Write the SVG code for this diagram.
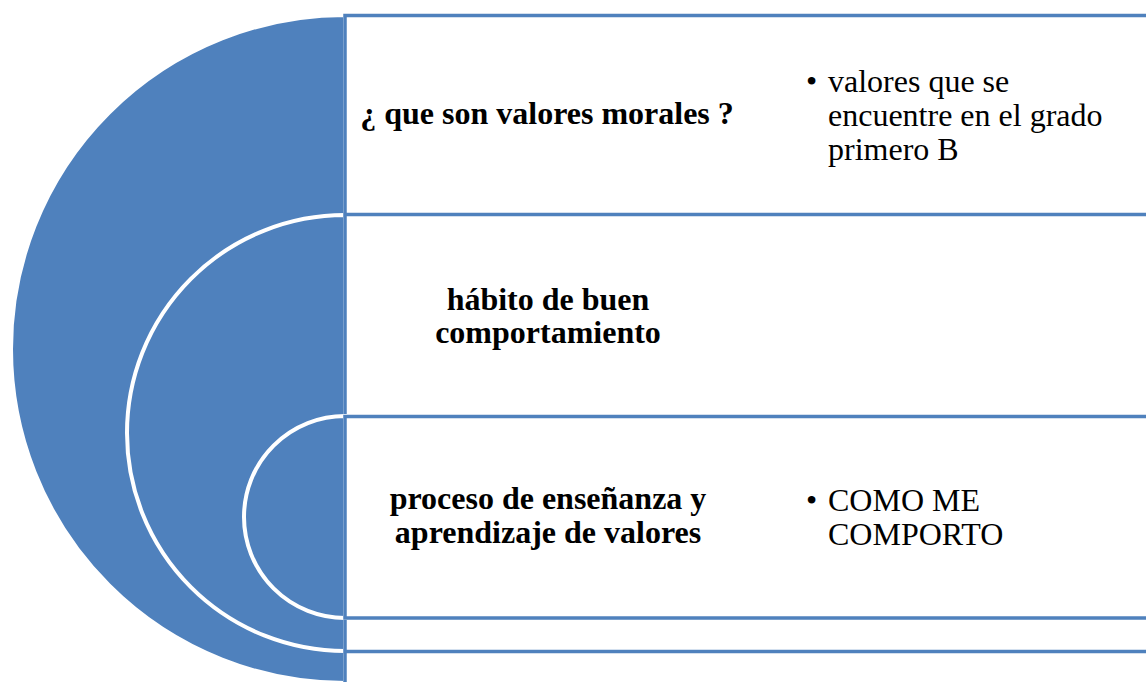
<svg xmlns="http://www.w3.org/2000/svg" width="1146" height="682" viewBox="0 0 1146 682">
<style>
.circ{fill:#4F81BD;stroke:#FFFFFF;stroke-width:4}
.box{fill:#FFFFFF;stroke:#4F81BD;stroke-width:3.5}
.h{font-family:"Liberation Serif","Times New Roman",serif;font-size:32px;font-weight:bold;fill:#000;text-anchor:middle}
.b{font-family:"Liberation Serif","Times New Roman",serif;font-size:32px;fill:#000}
</style>
<rect width="1146" height="682" fill="#FFFFFF"/>
<g id="level1">
<path class="circ" d="M345,15 A334,334 0 0 0 345,683 Z"/>
<rect class="box" x="345" y="15.5" width="830" height="680"/>
<text class="h" x="547" y="124">¿ que son valores morales ?</text>
<text class="b" x="806" y="92">•</text>
<text class="b" x="828" y="92">valores que se</text>
<text class="b" x="828" y="126">encuentre en el grado</text>
<text class="b" x="828" y="160">primero B</text>
</g>
<g id="level2">
<path class="circ" d="M345,215 A218,218 0 0 0 345,651 Z"/>
<rect class="box" x="345" y="214.5" width="830" height="437"/>
<text class="h" x="548" y="310">hábito de buen</text>
<text class="h" x="548" y="343">comportamiento</text>
</g>
<g id="level3">
<path class="circ" d="M345,416 A101,101 0 0 0 345,618 Z"/>
<rect class="box" x="345" y="416.5" width="830" height="201.5"/>
<text class="h" x="548" y="509">proceso de enseñanza y</text>
<text class="h" x="548" y="543">aprendizaje de valores</text>
<text class="b" x="806" y="511">•</text>
<text class="b" x="828" y="511">COMO ME</text>
<text class="b" x="828" y="545">COMPORTO</text>
</g>
<g id="connectors"></g>
</svg>
